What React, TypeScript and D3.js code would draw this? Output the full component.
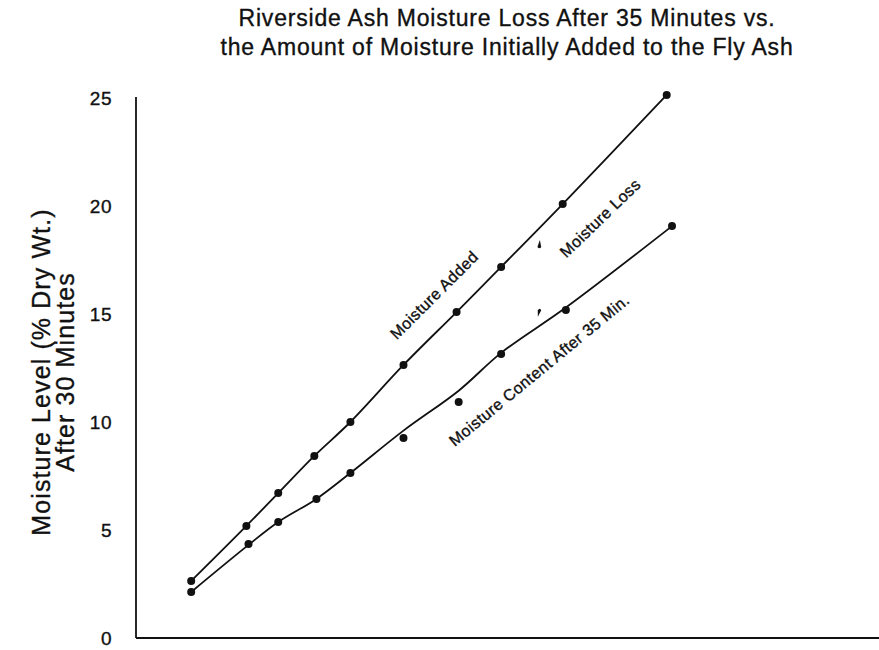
import React from "react";
import * as d3 from "d3";

// Initial moisture added to the fly ash (% dry wt.), x positions of each sample
const initialMoisture = [2.6, 5.2, 6.7, 8.4, 10.1, 12.6, 15.1, 17.2, 20.1, 25.0];
const moistureAdded = [2.64, 5.19, 6.71, 8.43, 10.0, 12.64, 15.09, 17.18, 20.09, 25.14];

// Measured moisture content after 35 minutes
const contentX = [2.6, 5.3, 6.7, 8.5, 10.1, 12.6, 15.2, 17.2, 20.25, 25.25];
const contentAfter35 = [2.13, 4.35, 5.37, 6.44, 7.64, 9.26, 10.93, 13.15, 15.19, 19.07];
// Smoothed curve drawn through the measured content
const contentFit = [2.13, 4.31, 5.37, 6.44, 7.64, 9.6, 11.45, 13.2, 15.3, 19.07];

// Moisture-loss indicator (arrow heads between the two curves)
const lossX = 19.0;
const lossTop = 18.2;
const lossBottom = 15.1;

const yTicks = [0, 5, 10, 15, 20, 25];

const titleLines = [
  "Riverside Ash Moisture Loss After 35 Minutes vs.",
  "the Amount of Moisture Initially Added to the Fly Ash",
];
const yTitleLines = ["Moisture Level (% Dry Wt.)", "After 30 Minutes"];

const W = 879;
const H = 650;
const FONT = "'Liberation Sans', Arial, Helvetica, sans-serif";
const INK = "#111";

// slightly heavier glyphs for all text
const textInk = { fill: INK, stroke: INK, strokeWidth: 0.35 };

export default function App() {
  const x = d3.scaleLinear().domain([0, 35]).range([136, 879]);
  const y = d3.scaleLinear().domain([0, 25]).range([638, 98]);

  const addedPts: [number, number][] = initialMoisture.map((v, i) => [x(v), y(moistureAdded[i])]);
  const contentPts: [number, number][] = contentX.map((v, i) => [x(v), y(contentAfter35[i])]);
  const fitPts: [number, number][] = contentX.map((v, i) => [x(v), y(contentFit[i])]);

  const curve = d3.line().curve(d3.curveCatmullRom.alpha(0.5));

  const lx = x(lossX);
  const topY = y(lossTop);
  const botY = y(lossBottom);

  return (
    <svg
      width={W}
      height={H}
      style={{ position: "absolute", left: 0, top: 0, background: "#fff" }}
      fontFamily={FONT}
    >
      <rect x={0} y={0} width={W} height={H} fill="#fff" />

      {/* title */}
      {titleLines.map((t, i) => (
        <text
          key={t}
          x={507}
          y={26 + i * 29}
          textAnchor="middle"
          fontSize={23}
          letterSpacing={0.8}
          {...textInk}
        >
          {t}
        </text>
      ))}

      {/* y axis title */}
      {yTitleLines.map((t, i) => (
        <text
          key={t}
          transform={`translate(${50 + i * 24}, 372) rotate(-90)`}
          textAnchor="middle"
          fontSize={25}
          letterSpacing={1.1}
          {...textInk}
        >
          {t}
        </text>
      ))}

      {/* axes */}
      <line x1={x(0)} x2={x(0)} y1={y(25) - 1} y2={y(0)} stroke={INK} strokeWidth={1.8} />
      <line x1={x(0)} x2={W} y1={y(0)} y2={y(0)} stroke={INK} strokeWidth={2} />
      {yTicks.map((t) => (
        <text
          key={t}
          x={112}
          y={y(t)}
          dy="0.36em"
          textAnchor="end"
          fontSize={19}
          letterSpacing={0.5}
          {...textInk}
        >
          {t}
        </text>
      ))}

      {/* curves */}
      <path d={curve(addedPts) ?? ""} fill="none" stroke={INK} strokeWidth={1.8} />
      <path d={curve(fitPts) ?? ""} fill="none" stroke={INK} strokeWidth={1.8} />

      {/* markers */}
      {addedPts.map(([px, py], i) => (
        <circle key={`a${i}`} cx={px} cy={py} r={4} fill={INK} />
      ))}
      {contentPts.map(([px, py], i) => (
        <circle key={`c${i}`} cx={px} cy={py} r={4} fill={INK} />
      ))}

      {/* moisture loss arrow heads */}
      <path
        d={`M${lx + 0.5},${topY - 5} L${lx + 1.9},${topY + 2} Q${lx},${topY + 4.5} ${lx - 1.9},${topY + 2} Z`}
        fill={INK}
      />
      <path
        d={`M${lx - 1.5},${botY + 5} L${lx + 1.9},${botY - 1.5} Q${lx + 0.5},${botY - 4.5} ${lx - 1.6},${botY - 1.5} Z`}
        fill={INK}
      />

      {/* curve labels */}
      <text
        transform="translate(434, 295) rotate(-45)"
        textAnchor="middle"
        dy="0.36em"
        fontSize={16}
        letterSpacing={0.4}
        {...textInk}
      >
        Moisture Added
      </text>
      <text
        transform="translate(600, 218) rotate(-44)"
        textAnchor="middle"
        dy="0.36em"
        fontSize={16}
        letterSpacing={0.4}
        {...textInk}
      >
        Moisture Loss
      </text>
      <text
        transform="translate(539, 370) rotate(-39.5)"
        textAnchor="middle"
        dy="0.36em"
        fontSize={16}
        letterSpacing={0.4}
        {...textInk}
      >
        Moisture Content After 35 Min.
      </text>
    </svg>
  );
}
